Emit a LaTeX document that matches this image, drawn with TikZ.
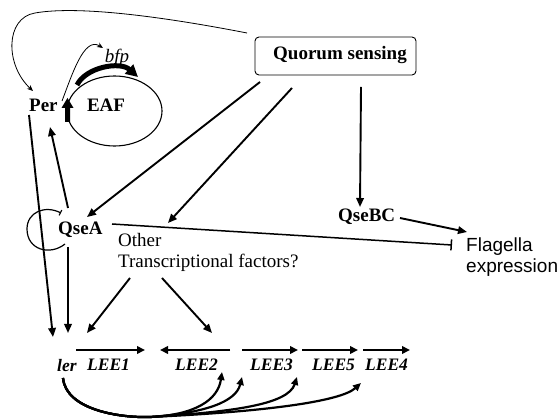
\documentclass[tikz,border=0pt]{standalone}
\usepackage{fontspec}
\setmainfont{Liberation Serif}
\setsansfont{Liberation Sans}
\usetikzlibrary{arrows.meta}
\tikzset{
  txt/.style={inner sep=0pt, font=\fontsize{19}{21}\selectfont},
  btxt/.style={inner sep=0pt, font=\fontsize{19}{21}\selectfont\bfseries},
  gtxt/.style={inner sep=0pt, font=\fontsize{17.5}{20}\selectfont\bfseries\itshape},
  conn/.style={line width=1.9pt, -{Triangle[length=9pt,width=7.5pt]}},
  inhib/.style={line width=1.5pt, -{Bar[width=11pt]}},
  gene/.style={line width=2.6pt, -{Triangle[length=8pt,width=7.5pt]}},
  thinl/.style={line width=0.8pt},
  loopl/.style={line width=1.2pt},
  curv/.style={line width=2.2pt, -{Triangle[length=8pt,width=7pt]}},
}
\begin{document}
\begin{tikzpicture}[x=1pt,y=-1pt]
\useasboundingbox (0,0) rectangle (560,419);
% nodes
\node[draw, rounded corners=4pt, line width=0.9pt, minimum width=161pt, minimum height=38pt, inner sep=0pt] (qsbox) at (335.5,56) {};
\node[btxt, anchor=base west] (qs) at (273,60) {Quorum sensing};
\node[btxt, anchor=base west] (per) at (29,112) {Per};
\node[btxt, anchor=base] (eaf) at (106,112) {EAF};
\node[txt, anchor=base] (bfp) at (117,63) {\itshape bfp};
\node[btxt, anchor=base west] (qsea) at (58,235) {QseA};
\node[btxt, anchor=base west] (qsebc) at (338,222) {QseBC};
\node[txt, anchor=base west, align=left] (other) at (118,268) {Other\\Transcriptional factors?};
\node[txt, anchor=base west, align=left, font=\fontsize{19}{21}\selectfont\sffamily] (flag) at (466,273) {Flagella\\expression};
\node[gtxt, anchor=base west] (ler) at (57,372) {ler};
\node[gtxt, anchor=base west] (lee1) at (87,371) {LEE1};
\node[gtxt, anchor=base west] (lee2) at (175,371) {LEE2};
\node[gtxt, anchor=base west] (lee3) at (250,371) {LEE3};
\node[gtxt, anchor=base west] (lee5) at (312,371) {LEE5};
\node[gtxt, anchor=base west] (lee4) at (365,371) {LEE4};
% coordinates
\coordinate (qsL) at (247,33);
\coordinate (perT) at (33,91);
\coordinate (qsA) at (260,82);
\coordinate (qsB) at (292,88);
\coordinate (qsC) at (361,87);
\coordinate (qseaIn) at (87,217);
\coordinate (otherIn) at (168,223);
\coordinate (qsebcIn) at (360,207);
\coordinate (qsebcOut) at (400,218);
\coordinate (flagIn) at (467,232);
\coordinate (qseaR) at (112,224);
\coordinate (flagBar) at (452,245);
\coordinate (qseaTop) at (68,208);
\coordinate (perB) at (50,127);
\coordinate (qseaBot) at (68,247);
\coordinate (lerIn2) at (68,333);
\coordinate (perBot) at (29,115);
\coordinate (lerIn1) at (53,337);
\coordinate (otherBL) at (130,278);
\coordinate (otherBR) at (162,278);
\coordinate (lee1In) at (87,333);
\coordinate (lee2In) at (212,333);
\coordinate (lerBot) at (63,378);
\coordinate (hub) at (150,417);
\coordinate (t1) at (222,372);
\coordinate (t2) at (242,377);
\coordinate (t3) at (297,377);
\coordinate (t4) at (361,383);
% EAF plasmid
\draw[line width=1.1pt] (114.5,111) ellipse [x radius=47.5pt, y radius=35pt];
\draw[line width=5pt, -{Triangle[length=12pt,width=12pt]}] (77,85) .. controls (86,67) and (120,61) .. (138,77);
\fill (65,122) -- (65,108) -- (61.5,108) -- (67.5,98) -- (73.5,108) -- (70,108) -- (70,122) -- cycle;
\draw[thinl, -{Stealth[length=6pt,width=5pt]}] (62,101) .. controls (72,75) and (84,36) .. (103,48);
% long thin curve from quorum sensing to Per
\draw[thinl, -{Stealth[length=6pt,width=5pt]}] (qsL) .. controls (170,18) and (80,5) .. (35,13) .. controls (5,18) and (5,65) .. (perT);
% connectors
\draw[conn] (qsA) -- (qseaIn);
\draw[conn] (qsB) -- (otherIn);
\draw[conn] (qsC) -- (qsebcIn);
\draw[conn] (qsebcOut) -- (flagIn);
\draw[inhib] (qseaR) -- (flagBar);
\draw[conn] (qseaTop) -- (perB);
\draw[conn] (qseaBot) -- (lerIn2);
\draw[conn] (perBot) -- (lerIn1);
\draw[conn] (otherBL) -- (lee1In);
\draw[conn] (otherBR) -- (lee2In);
% QseA self loop
\draw[loopl, -{Bar[width=6pt]}] (65,244) .. controls (50,256) and (27,250) .. (27,229) .. controls (27,212) and (45,205) .. (61,213);
% gene arrows
\draw[gene] (76,350) -- (145,350);
\draw[gene] (230,350) -- (160,350);
\draw[gene] (242,350) -- (298,350);
\draw[gene] (302,350) -- (358,350);
\draw[gene] (363,350) -- (410,350);
% bottom curves
\draw[curv] (lerBot) .. controls (66,410) and (120,418) .. (hub) .. controls (195,415) and (218,400) .. (t1);
\draw[curv] (lerBot) .. controls (66,410) and (120,418) .. (hub) .. controls (205,413) and (236,402) .. (t2);
\draw[curv] (lerBot) .. controls (66,410) and (120,418) .. (hub) .. controls (230,412) and (288,405) .. (t3);
\draw[curv] (lerBot) .. controls (66,410) and (120,418) .. (hub) .. controls (260,412) and (340,402) .. (t4);
\end{tikzpicture}
\end{document}
